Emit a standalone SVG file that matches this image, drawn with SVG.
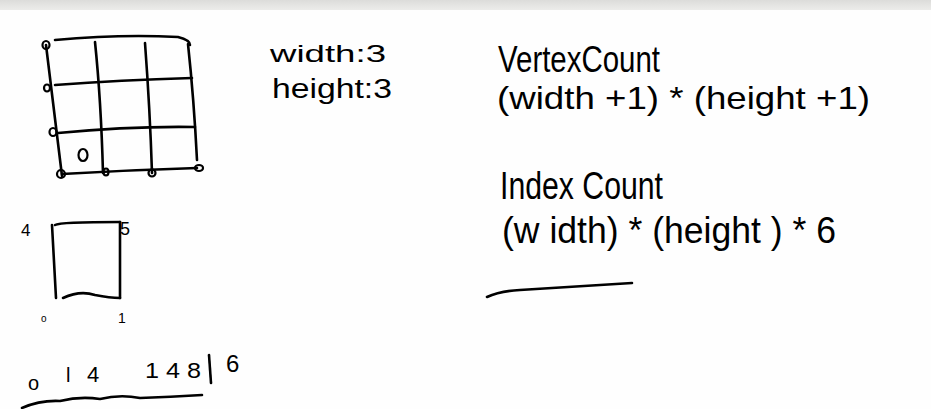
<svg xmlns="http://www.w3.org/2000/svg" width="931" height="409" viewBox="0 0 931 409">
<defs>
<linearGradient id="bar" x1="0" y1="0" x2="0" y2="1">
<stop offset="0" stop-color="#dcdcda"/>
<stop offset="1" stop-color="#ececea"/>
</linearGradient>
</defs>
<style>
.ink{fill:none;stroke:#000;stroke-width:2.6;stroke-linecap:round;stroke-linejoin:round}
.pt{fill:none;stroke:#000;stroke-width:2.2}
.t{font-family:"Liberation Sans","DejaVu Sans",sans-serif;fill:#000}
</style>
<rect width="931" height="409" fill="#fefefe"/>
<rect width="931" height="10" fill="url(#bar)"/>
<g id="grid">
<path class="ink" d="M55 40 Q120 34 178 37 Q190 40 190 45"/>
<path class="ink" d="M46 45 L62 176"/>
<path class="ink" d="M95 42 Q101 100 103 173"/>
<path class="ink" d="M145 43 Q150 110 152 173"/>
<path class="ink" d="M188 44 Q194 100 197 160"/>
<path class="ink" d="M55 85 Q120 80 192 78"/>
<path class="ink" d="M58 133 Q130 126 195 127"/>
<path class="ink" d="M62 174 Q130 170 197 168"/>
<ellipse class="pt" cx="46" cy="45" rx="3.5" ry="4"/>
<ellipse class="pt" cx="47" cy="88" rx="3" ry="3.5"/>
<ellipse class="pt" cx="53" cy="132" rx="3.5" ry="4" stroke-width="3"/>
<ellipse class="pt" cx="61" cy="174" rx="4" ry="4"/>
<ellipse class="pt" cx="106" cy="172" rx="2.5" ry="3.5"/>
<ellipse class="pt" cx="152" cy="173" rx="3.5" ry="3.5"/>
<ellipse class="pt" cx="199" cy="168" rx="4" ry="3"/>
<ellipse class="pt" cx="83" cy="155" rx="4.5" ry="6"/>
</g>
<g id="dims">
<text class="t" x="270" y="62" font-size="24" textLength="116" lengthAdjust="spacingAndGlyphs">width:3</text>
<text class="t" x="272" y="98" font-size="27" textLength="120" lengthAdjust="spacingAndGlyphs">height:3</text>
</g>
<g id="vertex">
<text class="t" x="498" y="72" font-size="36" textLength="162" lengthAdjust="spacingAndGlyphs">VertexCount</text>
<text class="t" x="497" y="109" font-size="32" textLength="373" lengthAdjust="spacingAndGlyphs">(width +1) * (height +1)</text>
</g>
<g id="index">
<text class="t" x="500" y="199" font-size="38" textLength="163" lengthAdjust="spacingAndGlyphs">Index Count</text>
<text class="t" x="502" y="243" font-size="36" textLength="334" lengthAdjust="spacingAndGlyphs">(w idth) * (height ) * 6</text>
<path class="ink" d="M487 297 Q500 291 520 290 Q580 286 632 283"/>
</g>
<g id="quad">
<path class="ink" d="M52 225 L56 298"/>
<path class="ink" d="M55 225 Q60 222 120 222"/>
<path class="ink" d="M120 222 L120 298"/>
<path class="ink" d="M63 298 Q80 290 95 295 Q110 298 120 298"/>
<text class="t" x="21" y="236" font-size="17">4</text>
<text class="t" x="120" y="235" font-size="18">5</text>
<text class="t" x="41" y="322" font-size="10">o</text>
<text class="t" x="118" y="323" font-size="14">1</text>
</g>
<g id="indices">
<text class="t" x="28" y="390" font-size="20">o</text>
<text class="t" x="66" y="382" font-size="20">l</text>
<text class="t" x="87" y="382" font-size="22">4</text>
<text class="t" x="145" y="378" font-size="22" textLength="56" lengthAdjust="spacingAndGlyphs">1 4 8</text>
<path class="ink" d="M209 355 L211 383"/>
<text class="t" x="226" y="372" font-size="24">6</text>
<path class="ink" d="M22 408 Q40 400 60 401 Q80 396 100 399 Q120 394 140 398 Q170 397 202 395"/>
</g>
</svg>
